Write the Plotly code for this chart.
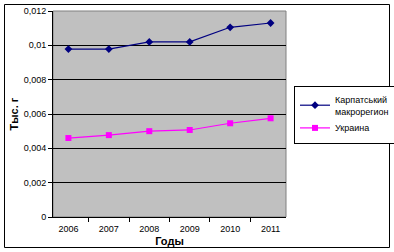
import plotly.graph_objects as go

years = ["2006", "2007", "2008", "2009", "2010", "2011"]
karpaty = [0.00978, 0.00978, 0.0102, 0.0102, 0.01105, 0.0113]
ukraine = [0.0046, 0.00477, 0.0050, 0.00507, 0.00546, 0.00575]
ytick_vals = [0, 0.002, 0.004, 0.006, 0.008, 0.01, 0.012]
ytick_text = ["0", "0,002", "0,004", "0,006", "0,008", "0,01", "0,012"]

fig = go.Figure()
fig.add_trace(go.Scatter(x=years, y=karpaty, mode="lines+markers",
                         name="Карпатський<br>макрорегион",
                         line=dict(color="#000080", width=1.2),
                         marker=dict(symbol="diamond", size=6, color="#000080")))
fig.add_trace(go.Scatter(x=years, y=ukraine, mode="lines+markers",
                         name="Украина",
                         line=dict(color="#FF00FF", width=1.2),
                         marker=dict(symbol="square", size=6, color="#FF00FF")))

L, R, T, B = 53, 108, 11, 35
W, H = 394, 252
pw, ph = W - L - R, H - T - B

def px(x):
    return (x - L) / pw

def py(y):
    return (H - B - y) / ph

fig.update_layout(
    width=W, height=H,
    margin=dict(l=L, r=R, t=T, b=B, autoexpand=False),
    paper_bgcolor="white", plot_bgcolor="#C0C0C0",
    font=dict(family="Liberation Sans, Arial, sans-serif", size=9, color="black"),
    showlegend=True,
    legend=dict(x=px(294), y=py(86), xanchor="left", yanchor="top",
                bgcolor="white", bordercolor="black", borderwidth=1,
                font=dict(size=9), tracegroupgap=2, itemwidth=30),
    xaxis=dict(type="category", showgrid=False, ticks="outside", tickson="boundaries",
               ticklen=4, tickcolor="black", showline=True, linecolor="black",
               automargin=False, ticklabelstandoff=3,
               title=dict(text="<b>Годы</b>", standoff=4), mirror=False),
    yaxis=dict(range=[0, 0.012], tickvals=ytick_vals, ticktext=ytick_text,
               showgrid=True, gridcolor="black", gridwidth=1,
               ticks="outside", ticklen=4, tickcolor="black",
               showline=True, linecolor="black", automargin=False,
               title=dict(text="<b>Тыс. г</b>", standoff=2), zeroline=False),
    shapes=[
        dict(type="rect", xref="paper", yref="paper",
             x0=px(53), x1=px(286), y0=py(217), y1=py(11),
             line=dict(color="#808080", width=1), layer="below"),
        dict(type="rect", xref="paper", yref="paper",
             x0=px(4.5), x1=px(389.5), y0=py(247.5), y1=py(4.5),
             line=dict(color="black", width=1)),
    ],
)

fig.write_html("out.html", config={"displayModeBar": False},
               post_script="document.body.style.margin='0';")
